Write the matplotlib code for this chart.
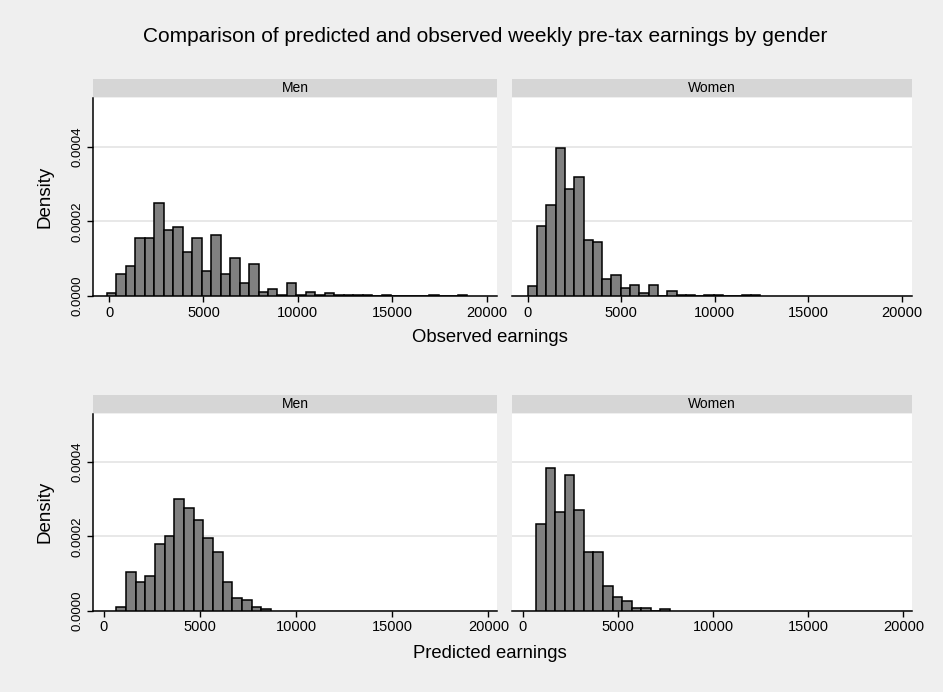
import matplotlib
matplotlib.use('Agg')
from matplotlib import pyplot as plt
import numpy as np

plt.rcParams['font.family'] = ['Liberation Sans', 'DejaVu Sans']

# histogram data: first bin edge, bin width, densities per bin
obs_men_start, obs_men_width = -113, 502
obs_men = [0.0000082, 0.0000582, 0.00008, 0.000156, 0.000156, 0.000248, 0.000177,
           0.000184, 0.000118, 0.000156, 0.000068, 0.000162, 0.000058, 0.000101,
           0.000036, 0.000085, 0.000012, 0.000019, 0.000002, 0.000036, 0.000002,
           0.000012, 0.000002, 0.000007, 0.000002, 0.000002, 0.000002, 0.000002,
           0.0, 0.000004, 0.0, 0.0, 0.0, 0.0, 0.000004, 0.0, 0.0, 0.000004]

obs_women_start, obs_women_width = 0, 497
obs_women = [0.0000255, 0.000188, 0.000243, 0.000395, 0.000286, 0.000319, 0.00015,
             0.000145, 0.0000455, 0.0000573, 0.0000227, 0.00003, 0.0000082, 0.00003,
             0.000001, 0.0000136, 0.000002, 0.000002, 0.000001, 0.000003, 0.000003,
             0.0, 0.0, 0.000003, 0.000003]

pred_men_start, pred_men_width = 660, 502
pred_men = [0.000009, 0.000103, 0.000076, 0.000093, 0.00018, 0.000201, 0.0003,
            0.000277, 0.000245, 0.000196, 0.000158, 0.000077, 0.0000335, 0.000029,
            0.000009, 0.0000045]

pred_women_start, pred_women_width = 720, 500
pred_women = [0.000233, 0.000385, 0.000266, 0.000365, 0.000272, 0.000157, 0.000157,
              0.000066, 0.000037, 0.0000253, 0.000007, 0.000007, 0.0, 0.000004]

x_ticks = [0, 5000, 10000, 15000, 20000]
y_ticks = [0.0, 0.0002, 0.0004]

W, H = 943, 692
fig = plt.figure(figsize=(W / 100, H / 100), dpi=100)
fig.patch.set_facecolor('#efefef')


def px_axes(x0, y0, x1, y1):
    return fig.add_axes([x0 / W, 1 - y1 / H, (x1 - x0) / W, (y1 - y0) / H])


def panel(x0, y0, x1, y1, start, width, dens, xlim, label, left):
    # strip header
    sax = px_axes(x0, y0 - 19, x1, y0 - 1)
    sax.set_facecolor('#d6d6d6')
    for s in sax.spines.values():
        s.set_visible(False)
    sax.set_xticks([])
    sax.set_yticks([])
    sax.text(0.5, 0.5, label, ha='center', va='center', fontsize=10,
             transform=sax.transAxes)

    ax = px_axes(x0, y0, x1, y1)
    ax.set_facecolor('white')
    edges = start + width * np.arange(len(dens))
    ax.bar(edges, dens, width=width, align='edge', color='#808080',
           edgecolor='black', linewidth=1.1, zorder=3)
    ax.set_xlim(*xlim)
    ax.set_ylim(0, 0.00053)
    ax.set_yticks(y_ticks)
    ax.grid(axis='y', color='#e4e4e4', linewidth=1.2, zorder=0)
    ax.set_xticks(x_ticks)
    ax.set_xticklabels([str(v) for v in x_ticks])
    ax.tick_params(axis='x', direction='out', length=4, width=1, labelsize=10.5,
                   pad=3)
    ax.spines['top'].set_visible(False)
    ax.spines['right'].set_visible(False)
    ax.spines['bottom'].set_linewidth(1.1)
    if left:
        ax.spines['left'].set_linewidth(1.1)
        ax.set_yticklabels(['%.4f' % v for v in y_ticks], rotation=90,
                           va='center')
        ax.tick_params(axis='y', direction='out', length=4, width=1,
                       labelsize=9.5, pad=3)
        ax.set_ylabel('Density', fontsize=13.5)
        ax.yaxis.set_label_coords((54 - x0) / (x1 - x0), 0.5)
    else:
        ax.spines['left'].set_visible(False)
        ax.tick_params(axis='y', length=0, labelleft=False)
    return ax


top_xlim = (-850, 20550)
bot_xlim = (-560, 20450)

panel(93, 98, 497, 296, obs_men_start, obs_men_width, obs_men, top_xlim, 'Men', True)
panel(512, 98, 912, 296, obs_women_start, obs_women_width, obs_women, top_xlim, 'Women', False)
panel(93, 414, 497, 610.5, pred_men_start, pred_men_width, pred_men, bot_xlim, 'Men', True)
panel(512, 414, 912, 610.5, pred_women_start, pred_women_width, pred_women, bot_xlim, 'Women', False)

fig.text(485 / W, 1 - 37 / H,
         'Comparison of predicted and observed weekly pre-tax earnings by gender',
         ha='center', va='center', fontsize=15)
fig.text(490 / W, 1 - 338 / H, 'Observed earnings', ha='center', va='center',
         fontsize=13.3)
fig.text(490 / W, 1 - 653 / H, 'Predicted earnings', ha='center', va='center',
         fontsize=13.3)

fig.savefig('out.png', dpi=100, facecolor=fig.get_facecolor())
